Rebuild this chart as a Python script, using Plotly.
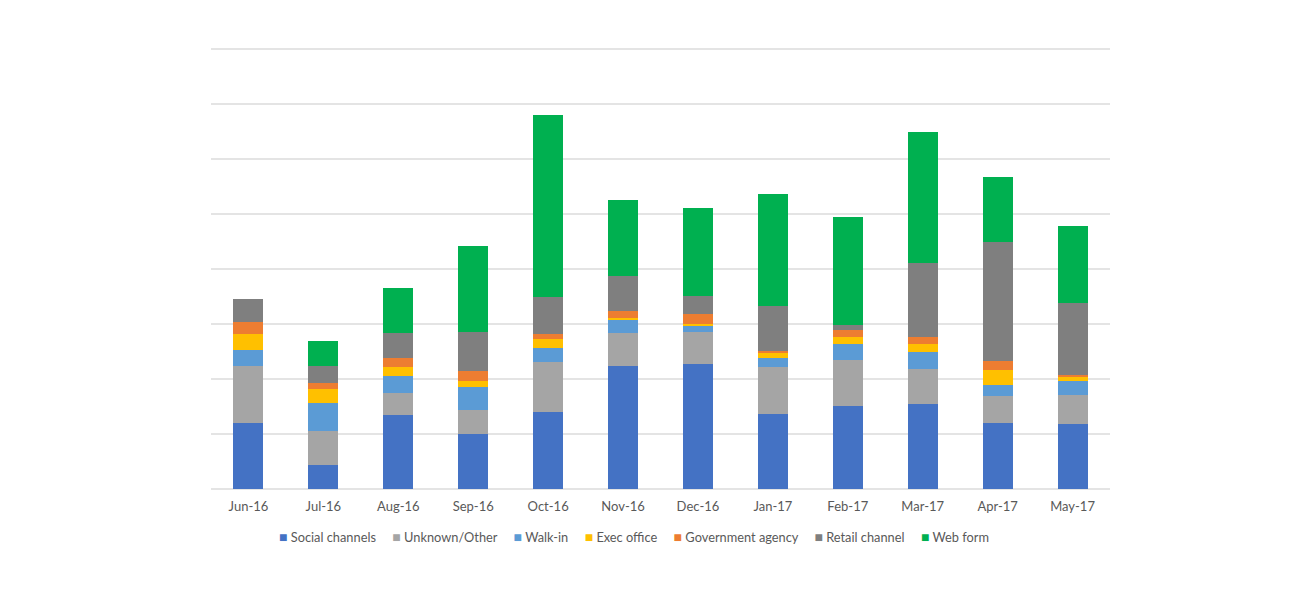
import plotly.graph_objects as go

months = ["Jun-16", "Jul-16", "Aug-16", "Sep-16", "Oct-16", "Nov-16",
          "Dec-16", "Jan-17", "Feb-17", "Mar-17", "Apr-17", "May-17"]

social = [119.5, 43.0, 135.0, 99.5, 139.5, 223.0, 226.7, 137.0, 151.5, 155.0, 119.5, 117.6]
unknown = [103.6, 62.4, 40.0, 44.2, 92.0, 60.5, 58.7, 84.9, 83.6, 62.5, 50.2, 53.3]
walkin = [29.6, 51.5, 29.8, 41.8, 25.5, 23.0, 11.5, 16.9, 28.0, 30.9, 19.5, 25.5]
exec_office = [28.5, 24.9, 16.4, 10.4, 16.4, 4.8, 3.1, 8.5, 13.8, 15.1, 26.7, 7.3]
gov_agency = [21.8, 10.4, 16.4, 19.3, 8.5, 11.6, 18.7, 3.6, 12.2, 13.3, 16.4, 3.6]
retail = [41.8, 31.5, 45.5, 70.4, 67.3, 64.2, 32.2, 82.4, 8.5, 134.0, 217.5, 130.4]
web_form = [0.0, 45.5, 81.8, 156.4, 331.0, 137.6, 160.0, 203.6, 197.5, 237.6, 118.2, 141.1]

series_names = ["Social channels", "Unknown/Other", "Walk-in", "Exec office",
                "Government agency", "Retail channel", "Web form"]
series_values = [social, unknown, walkin, exec_office, gov_agency, retail, web_form]
colors = ["#4472C4", "#A5A5A5", "#5B9BD5", "#FFC000", "#ED7D31", "#7F7F7F", "#00B050"]

fig = go.Figure()
for name, vals, color in zip(series_names, series_values, colors):
    fig.add_trace(go.Bar(
        x=months, y=vals, name=name,
        marker=dict(color=color, line=dict(width=0)),
        width=0.4,
    ))

# legend drawn as one text line (tight Excel-like spacing)
gap = "&nbsp;" * 5
legend_text = gap.join(
    f"<span style='color:{c}; font-size:14px'>■</span>&nbsp;{n}"
    for n, c in zip(series_names, colors)
)
fig.add_annotation(
    text=legend_text, xref="paper", yref="paper", x=0.471, y=-0.106,
    xanchor="center", yanchor="middle", showarrow=False,
    font=dict(size=12.8, color="#595959"),
)

fig.update_layout(
    barmode="stack",
    width=1299, height=590,
    margin=dict(l=203, r=197, t=36, b=109, autoexpand=False),
    paper_bgcolor="white",
    plot_bgcolor="white",
    font=dict(family="Lato, Carlito, Calibri, sans-serif", size=13, color="#595959"),
    showlegend=False,
    xaxis=dict(showgrid=False, showline=False, ticks="outside", ticklen=5,
               tickcolor="rgba(0,0,0,0)", tickfont=dict(size=13, color="#595959")),
    yaxis=dict(range=[0, 809], tickvals=[100, 200, 300, 400, 500, 600, 700, 800],
               showgrid=True, gridcolor="#E4E4E4", gridwidth=1.5,
               showticklabels=False, zeroline=True, zerolinecolor="#E4E4E4", zerolinewidth=1.5,
               showline=False),
)

fig.write_html("out.html")
